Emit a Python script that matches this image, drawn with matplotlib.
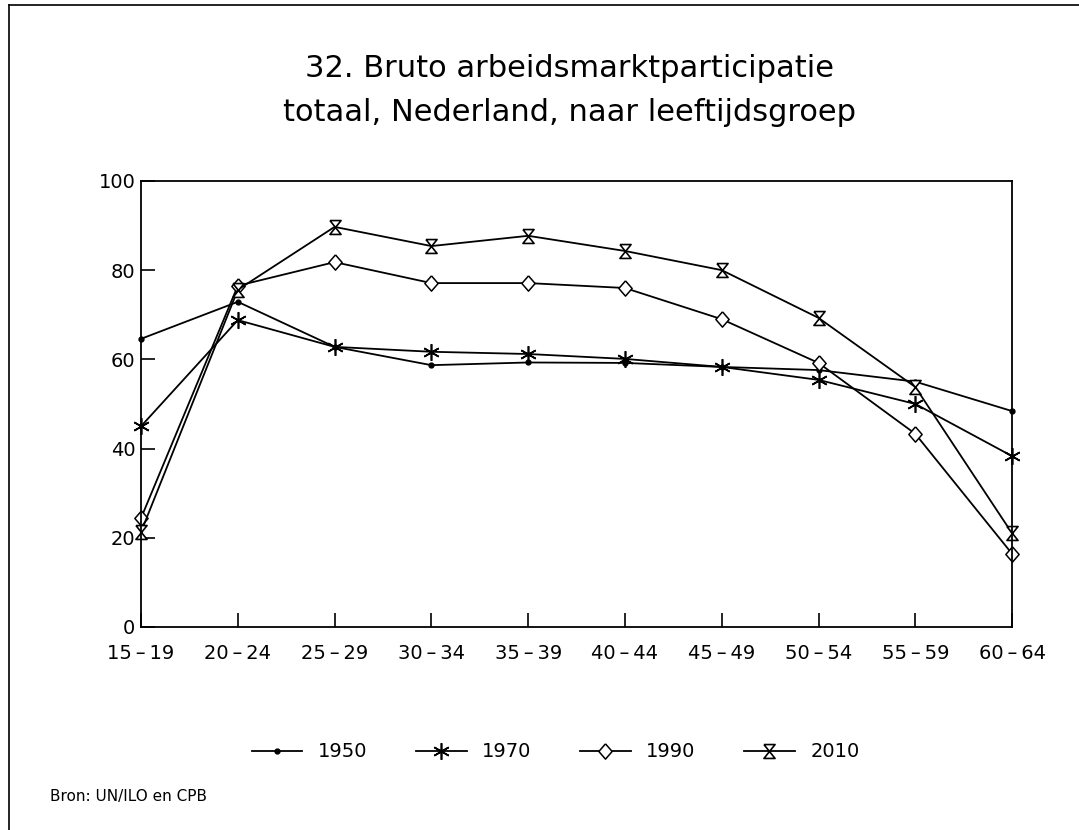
import numpy as np
import matplotlib
matplotlib.use('Agg')
import matplotlib.pyplot as plt
from matplotlib.lines import Line2D

# leeftijdsgroepen en participatie (%)
groups = ['15\u2009\u2013\u200919', '20\u2009\u2013\u200924', '25\u2009\u2013\u200929',
          '30\u2009\u2013\u200934', '35\u2009\u2013\u200939', '40\u2009\u2013\u200944',
          '45\u2009\u2013\u200949', '50\u2009\u2013\u200954', '55\u2009\u2013\u200959',
          '60\u2009\u2013\u200964']
p1950 = [64.6, 72.9, 62.8, 58.7, 59.3, 59.2, 58.3, 57.6, 55.0, 48.4]
p1970 = [45.0, 68.8, 62.8, 61.7, 61.2, 60.1, 58.3, 55.4, 50.0, 38.3]
p1990 = [24.4, 76.5, 81.8, 77.1, 77.1, 76.0, 69.0, 59.2, 43.3, 16.4]
p2010 = [21.3, 75.6, 89.7, 85.4, 87.7, 84.3, 80.0, 69.3, 53.8, 21.0]
years = ['1950', '1970', '1990', '2010']

plt.rcParams['font.family'] = 'DejaVu Sans'

hourglass = [(-0.8, 1), (0.8, 1), (-0.8, -1), (0.8, -1), (-0.8, 1)]
diamond = [(0, 1.15), (1, 0), (0, -1.15), (-1, 0), (0, 1.15)]
styles = [
    dict(marker='o', markersize=3.5, markerfacecolor='black'),
    dict(marker=(6, 2, 0), markersize=12, markeredgewidth=1.2),
    dict(marker=diamond, markersize=11, markerfacecolor='white', markeredgewidth=1.1),
    dict(marker=hourglass, markersize=10, markerfacecolor='white', markeredgewidth=1.2),
]

fig = plt.figure(figsize=(10.79, 8.30), dpi=100)
ax = fig.add_axes([0.1307, 0.2446, 0.8073, 0.5374])

x = np.arange(len(groups))
for vals, st, lab in zip([p1950, p1970, p1990, p2010], styles, years):
    ax.plot(x, vals, color='black', linewidth=1.3, label=lab, clip_on=False, **st)

ax.set_xlim(0, len(groups) - 1)
ax.set_ylim(0, 100)
ax.set_yticks([0, 20, 40, 60, 80, 100])
ax.set_xticks(x)
ax.set_xticklabels(groups)
ax.tick_params(axis='y', direction='in', length=10, width=1.2, pad=4, labelsize=14)
ax.tick_params(axis='x', direction='in', length=10, width=1.2, pad=12, labelsize=14)
for sp in ax.spines.values():
    sp.set_linewidth(1.3)

fig.text(0.528, 0.918, '32. Bruto arbeidsmarktparticipatie', ha='center', va='center', fontsize=22)
fig.text(0.528, 0.865, 'totaal, Nederland, naar leeftijdsgroep', ha='center', va='center', fontsize=22)

handles, labels = ax.get_legend_handles_labels()
fig.legend(handles, labels, loc='center', bbox_to_anchor=(0.515, 0.094), ncol=4,
           frameon=False, fontsize=14, handlelength=2.6, columnspacing=2.5)

fig.text(0.046, 0.04, 'Bron: UN/ILO en CPB', ha='left', va='center', fontsize=11)

# kader van de pagina
fig.add_artist(Line2D([0.008, 0.008], [0.0, 0.994], color='black', linewidth=1.2))
fig.add_artist(Line2D([0.008, 1.0], [0.994, 0.994], color='black', linewidth=1.2))

fig.savefig('out.png', dpi=100)
